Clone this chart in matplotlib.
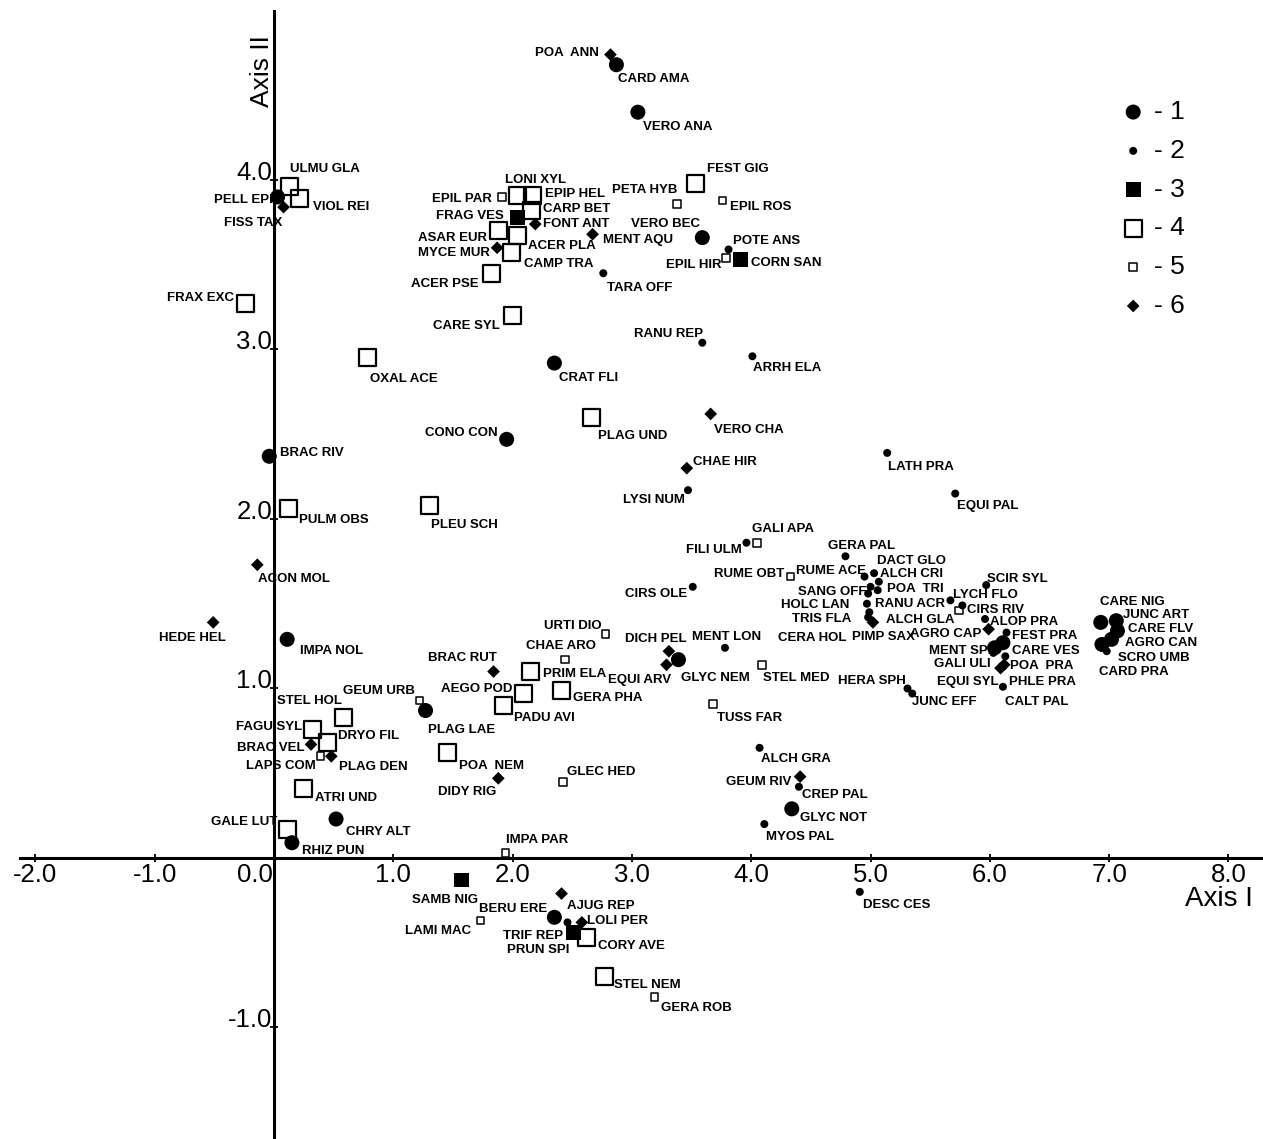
import matplotlib
matplotlib.use("Agg")
import matplotlib.pyplot as plt
from matplotlib import font_manager

plt.rcParams["font.family"] = ["Liberation Sans", "DejaVu Sans"]

# ---------------- data (ordination scores) ----------------
species = [
    "ULMU GLA", "VIOL REI", "PELL EPI", "FISS TAX", "FRAX EXC", "OXAL ACE", "EPIL PAR", "LONI XYL",
    "EPIP HEL", "CARP BET", "FRAG VES", "FONT ANT", "ASAR EUR", "ACER PLA", "MYCE MUR", "CAMP TRA",
    "ACER PSE", "CARE SYL", "CRAT FLI", "MENT AQU", "TARA OFF", "POA  ANN", "CARD AMA", "VERO ANA",
    "FEST GIG", "PETA HYB", "EPIL ROS", "VERO BEC", "POTE ANS", "CORN SAN", "EPIL HIR", "RANU REP",
    "ARRH ELA", "CONO CON", "PLAG UND", "BRAC RIV", "PULM OBS", "PLEU SCH", "ACON MOL", "HEDE HEL",
    "IMPA NOL", "URTI DIO", "VERO CHA", "CHAE HIR", "LYSI NUM", "LATH PRA", "EQUI PAL", "GALI APA",
    "FILI ULM", "GERA PAL", "RUME OBT", "RUME ACE", "DACT GLO", "ALCH CRI", "SANG OFF", "POA  TRI",
    "HOLC LAN", "RANU ACR", "TRIS FLA", "CERA HOL", "PIMP SAX", "ALCH GLA", "LYCH FLO", "SCIR SYL",
    "CIRS RIV", "ALOP PRA", "AGRO CAP", "FEST PRA", "CARE VES", "MENT SPI", "GALI ULI", "POA  PRA",
    "EQUI SYL", "PHLE PRA", "CALT PAL", "HERA SPH", "JUNC EFF", "CARE NIG", "JUNC ART", "CARE FLV",
    "AGRO CAN", "SCRO UMB", "CARD PRA", "CIRS OLE", "DICH PEL", "EQUI ARV", "GLYC NEM", "MENT LON",
    "STEL MED", "TUSS FAR", "BRAC RUT", "CHAE ARO", "PRIM ELA", "AEGO POD", "GERA PHA", "PADU AVI",
    "GEUM URB", "PLAG LAE", "STEL HOL", "FAGU SYL", "DRYO FIL", "BRAC VEL", "LAPS COM", "PLAG DEN",
    "POA  NEM", "DIDY RIG", "GLEC HED", "ATRI UND", "CHRY ALT", "GALE LUT", "RHIZ PUN", "IMPA PAR",
    "ALCH GRA", "GEUM RIV", "CREP PAL", "GLYC NOT", "MYOS PAL", "DESC CES", "SAMB NIG", "LAMI MAC",
    "BERU ERE", "AJUG REP", "LOLI PER", "TRIF REP", "PRUN SPI", "CORY AVE", "STEL NEM", "GERA ROB",
]

axis1 = [
    0.13, 0.21, 0.03, 0.08, -0.24, 0.78, 1.91, 2.04,
    2.17, 2.16, 2.04, 2.19, 1.88, 2.04, 1.87, 1.99,
    1.82, 2.00, 2.35, 2.67, 2.76, 2.82, 2.87, 3.05,
    3.53, 3.38, 3.76, 3.59, 3.81, 3.91, 3.79, 3.59,
    4.01, 1.95, 2.66, -0.04, 0.12, 1.30, -0.14, -0.51,
    0.11, 2.78, 3.66, 3.46, 3.47, 5.14, 5.71, 4.05,
    3.96, 4.79, 4.33, 4.95, 5.03, 5.07, 5.00, 5.06,
    4.98, 4.97, 4.99, 4.98, 5.02, 5.74, 5.67, 5.97,
    5.77, 5.96, 5.99, 6.14, 6.11, 6.04, 6.03, 6.13,
    6.09, 6.12, 6.11, 5.31, 5.35, 6.93, 7.06, 7.07,
    7.02, 6.98, 6.94, 3.51, 3.31, 3.29, 3.39, 3.78,
    4.09, 3.68, 1.84, 2.44, 2.15, 2.09, 2.41, 1.92,
    1.22, 1.27, 0.58, 0.32, 0.45, 0.31, 0.39, 0.48,
    1.45, 1.88, 2.42, 0.25, 0.52, 0.11, 0.15, 1.94,
    4.07, 4.41, 4.40, 4.34, 4.11, 4.91, 1.57, 1.73,
    2.35, 2.41, 2.58, 2.46, 2.51, 2.62, 2.77, 3.19,
]

axis2 = [
    3.96, 3.89, 3.90, 3.84, 3.27, 2.95, 3.90, 3.91,
    3.91, 3.82, 3.78, 3.74, 3.70, 3.67, 3.60, 3.57,
    3.45, 3.20, 2.92, 3.68, 3.45, 4.74, 4.68, 4.40,
    3.98, 3.86, 3.88, 3.66, 3.59, 3.53, 3.54, 3.04,
    2.96, 2.47, 2.60, 2.37, 2.06, 2.08, 1.73, 1.39,
    1.29, 1.32, 2.62, 2.30, 2.17, 2.39, 2.15, 1.86,
    1.86, 1.78, 1.66, 1.66, 1.68, 1.63, 1.60, 1.58,
    1.56, 1.50, 1.45, 1.42, 1.39, 1.46, 1.52, 1.61,
    1.49, 1.41, 1.35, 1.33, 1.27, 1.24, 1.21, 1.19,
    1.12, 1.14, 1.01, 1.00, 0.97, 1.39, 1.40, 1.34,
    1.29, 1.22, 1.26, 1.60, 1.22, 1.14, 1.17, 1.24,
    1.14, 0.91, 1.10, 1.17, 1.10, 0.97, 0.99, 0.90,
    0.93, 0.87, 0.83, 0.76, 0.68, 0.67, 0.60, 0.60,
    0.62, 0.47, 0.45, 0.41, 0.23, 0.17, 0.09, 0.03,
    0.65, 0.48, 0.42, 0.29, 0.20, -0.20, -0.13, -0.37,
    -0.35, -0.21, -0.38, -0.38, -0.44, -0.47, -0.70, -0.82,
]

group = [
    4, 4, 1, 6, 4, 4, 5, 4,
    4, 4, 3, 6, 4, 4, 6, 4,
    4, 4, 1, 6, 2, 6, 1, 1,
    4, 5, 5, 1, 2, 3, 5, 2,
    2, 1, 4, 1, 4, 4, 6, 6,
    1, 5, 6, 6, 2, 2, 2, 5,
    2, 2, 5, 2, 2, 2, 2, 2,
    2, 2, 2, 2, 6, 5, 2, 2,
    2, 2, 6, 2, 1, 1, 2, 2,
    6, 6, 2, 2, 2, 1, 1, 1,
    1, 2, 1, 2, 6, 6, 1, 2,
    5, 5, 6, 5, 4, 4, 4, 4,
    5, 1, 4, 4, 4, 6, 5, 6,
    4, 6, 5, 4, 1, 4, 1, 5,
    2, 6, 2, 1, 2, 2, 3, 5,
    1, 6, 6, 2, 3, 4, 4, 5,
]

group_ids = [1, 2, 3, 4, 5, 6]
x_ticks = [-2, -1, 0, 1, 2, 3, 4, 5, 6, 7, 8]
y_ticks = [-1, 1, 2, 3, 4]

# ---------------- layout / style ----------------
# label placement relative to its marker: (dx px, dy px (down), alignment)
LABEL_OFFSETS = {
    "ULMU GLA": (0, -19, "left"), "VIOL REI": (14, 7, "left"), "PELL EPI": (-5, 1, "right"),
    "FISS TAX": (-1, 14, "right"), "FRAX EXC": (-11, -7, "right"), "OXAL ACE": (3, 19, "left"),
    "EPIL PAR": (-10, 0, "right"), "LONI XYL": (-12, -17, "left"), "EPIP HEL": (12, -3, "left"),
    "CARP BET": (11, -3, "left"), "FRAG VES": (-14, -3, "right"), "FONT ANT": (8, -2, "left"),
    "ASAR EUR": (-11, 5, "right"), "ACER PLA": (11, 8, "left"), "MYCE MUR": (-7, 3, "right"),
    "CAMP TRA": (13, 9, "left"), "ACER PSE": (-13, 9, "right"), "CARE SYL": (-13, 9, "right"),
    "CRAT FLI": (5, 13, "left"), "MENT AQU": (10, 4, "left"), "TARA OFF": (4, 13, "left"),
    "POA  ANN": (-12, -3, "right"), "CARD AMA": (2, 13, "left"), "VERO ANA": (5, 13, "left"),
    "FEST GIG": (12, -16, "left"), "PETA HYB": (0, -15, "right"), "EPIL ROS": (7, 5, "left"),
    "VERO BEC": (-2, -15, "right"), "POTE ANS": (4, -10, "left"), "CORN SAN": (11, 2, "left"),
    "EPIL HIR": (-5, 5, "right"), "RANU REP": (1, -10, "right"), "ARRH ELA": (1, 10, "left"),
    "CONO CON": (-9, -8, "right"), "PLAG UND": (7, 17, "left"), "BRAC RIV": (11, -5, "left"),
    "PULM OBS": (11, 9, "left"), "PLEU SCH": (2, 18, "left"), "ACON MOL": (1, 13, "left"),
    "HEDE HEL": (13, 14, "right"), "IMPA NOL": (13, 10, "left"), "URTI DIO": (-4, -10, "right"),
    "VERO CHA": (3, 14, "left"), "CHAE HIR": (6, -8, "left"), "LYSI NUM": (-3, 8, "right"),
    "LATH PRA": (1, 12, "left"), "EQUI PAL": (2, 11, "left"), "GALI APA": (-5, -15, "left"),
    "FILI ULM": (-5, 6, "right"), "GERA PAL": (-17, -12, "left"), "RUME OBT": (-6, -4, "right"),
    "RUME ACE": (1, -7, "right"), "DACT GLO": (3, -14, "left"), "ALCH CRI": (1, -9, "left"),
    "SANG OFF": (-4, 4, "right"), "POA  TRI": (9, -3, "left"), "HOLC LAN": (-19, 10, "right"),
    "RANU ACR": (8, -1, "left"), "TRIS FLA": (-18, 5, "right"), "CERA HOL": (-22, 19, "right"),
    "PIMP SAX": (-21, 13, "left"), "ALCH GLA": (-4, 8, "right"), "LYCH FLO": (3, -7, "left"),
    "SCIR SYL": (1, -8, "left"), "CIRS RIV": (5, 3, "left"), "ALOP PRA": (5, 1, "left"),
    "AGRO CAP": (-7, 3, "right"), "FEST PRA": (5, 2, "left"), "CARE VES": (9, 7, "left"),
    "MENT SPI": (-3, 1, "right"), "GALI ULI": (-3, 9, "right"), "POA  PRA": (5, 8, "left"),
    "EQUI SYL": (-2, 12, "right"), "PHLE PRA": (5, 16, "left"), "CALT PAL": (2, 14, "left"),
    "HERA SPH": (-2, -9, "right"), "JUNC EFF": (0, 7, "left"), "CARE NIG": (-1, -22, "left"),
    "JUNC ART": (7, -7, "left"), "CARE FLV": (11, -4, "left"), "AGRO CAN": (14, 2, "left"),
    "SCRO UMB": (11, 5, "left"), "CARD PRA": (-3, 26, "left"), "CIRS OLE": (-6, 6, "right"),
    "DICH PEL": (18, -14, "right"), "EQUI ARV": (5, 14, "right"), "GLYC NEM": (3, 17, "left"),
    "MENT LON": (2, -13, "center"), "STEL MED": (1, 12, "left"), "TUSS FAR": (4, 13, "left"),
    "BRAC RUT": (3, -15, "right"), "CHAE ARO": (-4, -15, "center"), "PRIM ELA": (12, 1, "left"),
    "AEGO POD": (-11, -6, "right"), "GERA PHA": (11, 6, "left"), "PADU AVI": (11, 11, "left"),
    "GEUM URB": (-5, -11, "right"), "PLAG LAE": (2, 18, "left"), "STEL HOL": (-1, -18, "right"),
    "FAGU SYL": (-10, -4, "right"), "DRYO FIL": (10, -8, "left"), "BRAC VEL": (-6, 2, "right"),
    "LAPS COM": (-5, 8, "right"), "PLAG DEN": (8, 9, "left"), "POA  NEM": (12, 11, "left"),
    "DIDY RIG": (-2, 12, "right"), "GLEC HED": (4, -11, "left"), "ATRI UND": (11, 8, "left"),
    "CHRY ALT": (10, 11, "left"), "GALE LUT": (-10, -9, "right"), "RHIZ PUN": (10, 7, "left"),
    "IMPA PAR": (1, -15, "left"), "ALCH GRA": (1, 9, "left"), "GEUM RIV": (-9, 4, "right"),
    "CREP PAL": (3, 7, "left"), "GLYC NOT": (8, 7, "left"), "MYOS PAL": (2, 11, "left"),
    "DESC CES": (3, 11, "left"), "SAMB NIG": (17, 18, "right"), "LAMI MAC": (-9, 9, "right"),
    "BERU ERE": (-7, -10, "right"), "AJUG REP": (5, 11, "left"), "LOLI PER": (5, -3, "left"),
    "TRIF REP": (-4, 12, "right"), "PRUN SPI": (-4, 16, "right"), "CORY AVE": (11, 7, "left"),
    "STEL NEM": (10, 7, "left"), "GERA ROB": (6, 9, "left"),
}

STYLE = {
    1: dict(marker="o", s=117, facecolors="black", edgecolors="none"),
    2: dict(marker="o", s=33, facecolors="black", edgecolors="none"),
    3: dict(marker="s", s=112, facecolors="black", edgecolors="none"),
    4: dict(marker="s", s=150, facecolors="none", edgecolors="black", linewidths=1.6),
    5: dict(marker="s", s=30, facecolors="none", edgecolors="black", linewidths=1.1),
    6: dict(marker="D", s=42, facecolors="black", edgecolors="none"),
}

installed = {f.name for f in font_manager.fontManager.ttflist}
if "Liberation Sans Narrow" in installed:
    LABEL_FONT = dict(family="Liberation Sans Narrow", fontsize=11, fontweight="bold")
    CAP_HALF = 5.5
else:
    LABEL_FONT = dict(family="Liberation Sans", fontsize=9.5, fontweight="bold")
    CAP_HALF = 4.7

PX2PT = 72 / 100.0

fig = plt.figure(figsize=(12.63, 11.39), dpi=100)
ax = fig.add_axes([0, 0, 1, 1])
ax.set_xlim(-2.297, 8.290)
ax.set_ylim(-1.658, 5.062)

# axes through the origin
for side in ("top", "right"):
    ax.spines[side].set_visible(False)
ax.spines["left"].set_position(("data", 0))
ax.spines["bottom"].set_position(("data", 0))
ax.spines["left"].set_bounds(-1.66, 5.0)
ax.spines["bottom"].set_bounds(-2.13, 8.27)
ax.spines["left"].set_linewidth(2.2)
ax.spines["bottom"].set_linewidth(2.2)
ax.set_xticks(x_ticks)
ax.set_yticks(y_ticks)
ax.tick_params(direction="inout", length=6, width=1.3, labelbottom=False, labelleft=False)

# tick labels
for v in x_ticks:
    ha = "right" if v == 0 else "center"
    ax.annotate(f"{v:.1f}", (v, 0), xytext=(-1 if v == 0 else 0, -5 * PX2PT), textcoords="offset points",
                ha=ha, va="top", fontsize=18.5)
for v in y_ticks:
    ax.annotate(f"{v:.1f}", (0, v), xytext=(-2 * PX2PT, 0), textcoords="offset points",
                ha="right", va="baseline", fontsize=18.5)

# axis titles
ax.text(7.92, -0.242, "Axis I", ha="center", va="center", fontsize=20)
ax.text(-0.10, 4.64, "Axis II", ha="center", va="center", rotation=90, fontsize=19)

# points by group
for g in group_ids:
    xs = [x for x, gg in zip(axis1, group) if gg == g]
    ys = [y for y, gg in zip(axis2, group) if gg == g]
    ax.scatter(xs, ys, zorder=3, label=f"- {g}", **STYLE[g])

# species labels
for name, x, y in zip(species, axis1, axis2):
    dx, dy, ha = LABEL_OFFSETS[name]
    ax.annotate(name, (x, y), xytext=(dx * PX2PT, -(dy + CAP_HALF) * PX2PT), textcoords="offset points",
                ha=ha, va="baseline", zorder=4, **LABEL_FONT)

ax.legend(loc="upper left", bbox_to_anchor=(1120 / 1263, 1 - 100 / 1139), frameon=False,
          fontsize=19, handlelength=1.0, handletextpad=0.3, labelspacing=0.56,
          borderpad=0, borderaxespad=0, scatterpoints=1)

fig.savefig("out.png", dpi=100)
